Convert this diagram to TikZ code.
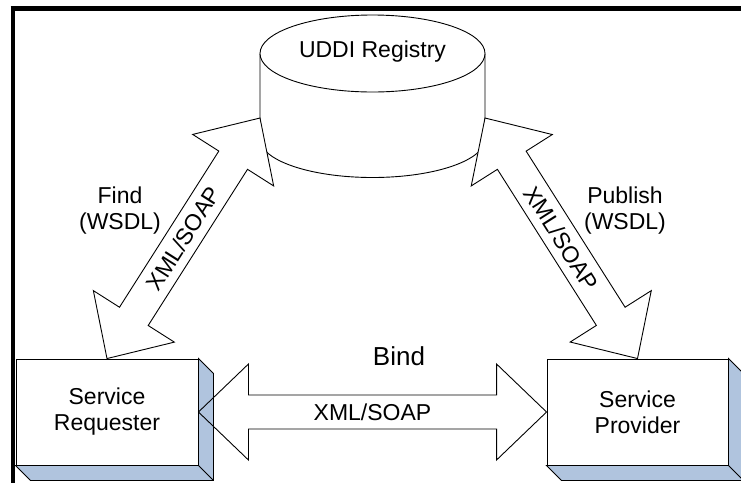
\documentclass[tikz,border=0pt]{standalone}
\usepackage{fontspec}
\setmainfont{Liberation Sans}
\usetikzlibrary{calc, positioning}

\definecolor{shadeblue}{RGB}{176,196,222}

% wide double arrow between two points
\newcommand{\hdlen}{50pt}
\newcommand{\hdwid}{48pt}
\newcommand{\shwid}{17pt}
\newcommand{\fatlink}[3][]{%
  \path (#2) coordinate (t1) (#3) coordinate (t2);
  \path ($(t1)!\hdlen!(t2)$) coordinate (h1) ($(t2)!\hdlen!(t1)$) coordinate (h2);
  \draw[fatlink, #1] (t1) -- ($(h1)!\hdwid!90:(t2)$) -- ($(h1)!\shwid!90:(t2)$)
    -- ($(h2)!\shwid!-90:(t1)$) -- ($(h2)!\hdwid!-90:(t1)$) -- (t2)
    -- ($(h2)!\hdwid!90:(t1)$) -- ($(h2)!\shwid!90:(t1)$)
    -- ($(h1)!\shwid!-90:(t2)$) -- ($(h1)!\hdwid!-90:(t2)$) -- cycle;
}

\begin{document}
\begin{tikzpicture}[x=1pt, y=-1pt,
    lbl/.style={font=\fontsize{23}{26}\selectfont, align=center, inner sep=0pt},
    svcbox/.style={lbl, draw, fill=white, line width=0.9pt, minimum width=182pt, minimum height=106pt},
    face/.style={draw, fill=shadeblue, line width=0.9pt},
    fatlink/.style={draw, line width=0.9pt, line join=miter}]

    % Frame
    \useasboundingbox (0,0) rectangle (741,483);
    \clip (0,0) rectangle (741,483);
    \fill[white] (0,0) rectangle (741,483);
    \draw[line width=5pt] (10.5,8.5) -- (741,8.5);
    \draw[line width=4pt] (12.5,6) -- (12.5,483);

    % Registry
    \draw[fill=white, line width=0.9pt] (260,53.5) -- (260,139)
        arc[start angle=180, end angle=0, x radius=112.5, y radius=38.5] -- (485,53.5);
    \draw[fill=white, line width=0.9pt] (372.5,53.5) ellipse [x radius=112.5, y radius=38.5];
    \node[lbl] (registry) at (372.5,52) {UDDI Registry};
    \coordinate (regL) at (260,118);
    \coordinate (regR) at (485,118);

    % Requester and provider
    \node[svcbox] (req) at (107,412) {Service\\Requester};
    \node[svcbox, minimum width=181pt] (prov) at (637.5,412) {Service\\Provider};
    \foreach \b in {req,prov} {
        \draw[face] (\b.north east) -- ++(15,15) -- ($(\b.south east)+(15,15)$)
            -- ($(\b.south west)+(15,15)$) -- (\b.south west) -- (\b.south east) -- cycle;
        \draw[line width=0.9pt] (\b.south east) -- ++(15,15);
    }

    % Links
    \fatlink[fill=white]{regL}{req.north}
    \fatlink[fill=white]{regR}{prov.north}
    \fatlink{req.east}{prov.west}

    % Labels
    \path (regL) -- (req.north) node[lbl, midway, sloped] {XML/SOAP};
    \path (regR) -- (prov.north) node[lbl, midway, sloped] {XML/SOAP};
    \path (req.east) -- (prov.west) node[lbl, midway] {XML/SOAP};
    \node[lbl] (find) at (120,211) {Find\\(WSDL)};
    \node[lbl] (publish) at (625,211) {Publish\\(WSDL)};
    \node[lbl, font=\fontsize{26}{30}\selectfont] (bind) at (399,356) {Bind};
\end{tikzpicture}
\end{document}
